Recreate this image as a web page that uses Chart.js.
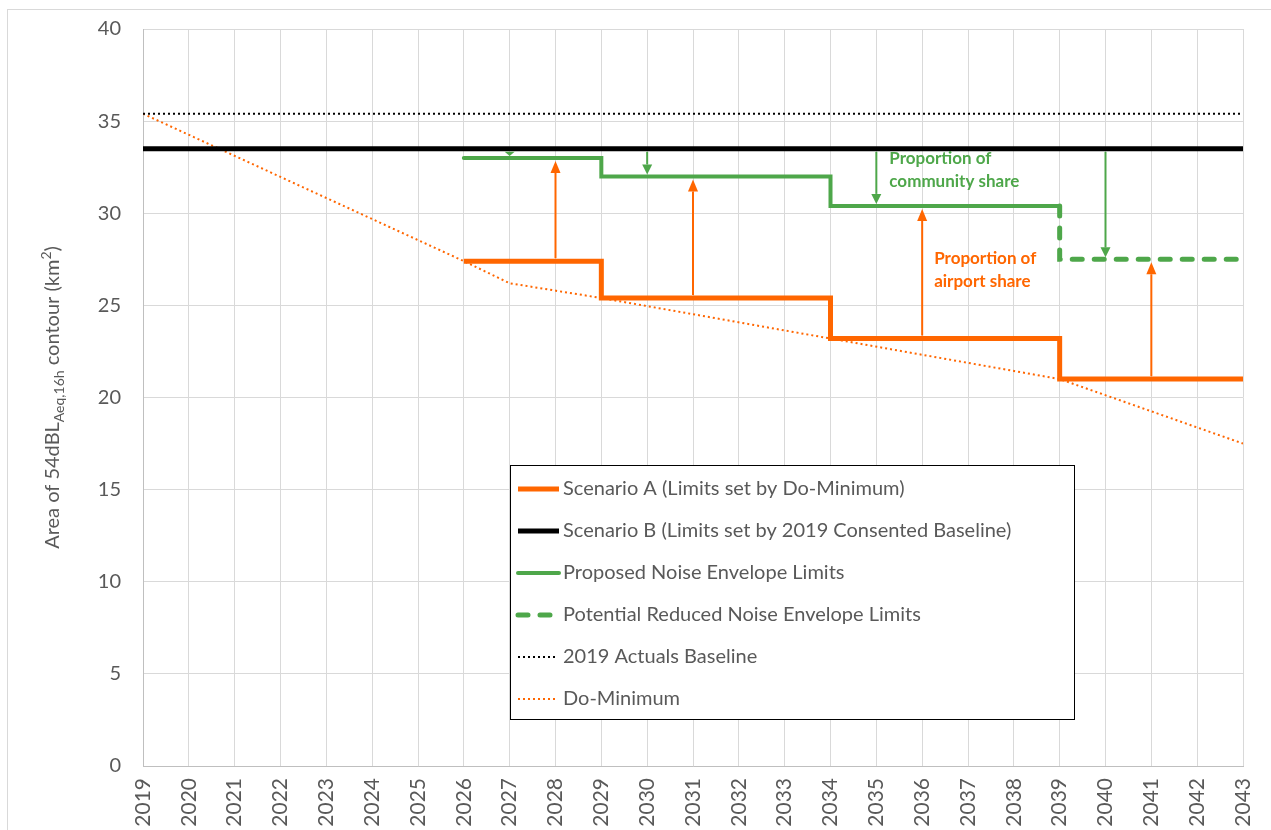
<!DOCTYPE html>
<html>
<head>
<meta charset="utf-8">
<script src="https://cdn.jsdelivr.net/npm/chart.js@4/dist/chart.umd.min.js"></script>
<style>
  html, body { margin: 0; padding: 0; background: #fff; overflow: hidden; }
  #wrap { position: absolute; left: 0; top: 0; width: 1271px; height: 830px; }
</style>
</head>
<body>
<div id="wrap"><canvas id="noiseChart" width="1271" height="830"></canvas></div>
<script>
// axis ticks
const tickYears = [2019, 2020, 2021, 2022, 2023, 2024, 2025, 2026, 2027, 2028, 2029, 2030, 2031,
  2032, 2033, 2034, 2035, 2036, 2037, 2038, 2039, 2040, 2041, 2042, 2043];
const yTicks = [0, 5, 10, 15, 20, 25, 30, 35, 40];

// series (year breakpoints + values, km2)
const scenAYears = [2026, 2029, 2034, 2039, 2043];
const scenAVals = [27.4, 25.4, 23.2, 21.0, 21.0];
const scenBYears = [2019, 2043];
const scenBVals = [33.5, 33.5];
const proposedYears = [2026, 2029, 2034, 2039];
const proposedVals = [33.0, 32.0, 30.4, 30.4];
const reducedYears = [2039, 2039, 2043];
const reducedVals = [30.4, 27.5, 27.5];
const actualsYears = [2019, 2043];
const actualsVals = [35.4, 35.4];
const doMinYears = [2019, 2026, 2027, 2029, 2034, 2039, 2043];
const doMinVals = [35.4, 27.4, 26.2, 25.4, 23.2, 21.0, 17.5];

// arrows: community share (down from Scenario B) and airport share (up from Scenario A)
const communityYears = [2027, 2030, 2035, 2040];
const communityFrom = [33.5, 33.5, 33.5, 33.5];
const communityTo = [33.0, 32.0, 30.4, 27.5];
const airportYears = [2028, 2031, 2036, 2041];
const airportFrom = [27.4, 25.4, 23.2, 21.0];
const airportTo = [33.0, 32.0, 30.4, 27.5];

const ORANGE = '#ff6600';
const GREEN = '#4ea74a';
const TEXT = '#595959';
const FONT = 'Lato, "Open Sans", sans-serif';

const pts = (xs, ys) => xs.map((x, i) => ({ x: x, y: ys[i] }));

function arrow(ctx, x, yFrom, yTo, color, head) {
  const dir = yTo > yFrom ? 1 : -1;
  const len = Math.abs(yTo - yFrom);
  const h = Math.min(head, len);
  ctx.strokeStyle = color;
  ctx.fillStyle = color;
  ctx.lineWidth = 2;
  if (len > h) {
    ctx.beginPath();
    ctx.moveTo(x, yFrom);
    ctx.lineTo(x, yTo - dir * h);
    ctx.stroke();
  }
  ctx.beginPath();
  ctx.moveTo(x, yTo);
  ctx.lineTo(x - 5, yTo - dir * h);
  ctx.lineTo(x + 5, yTo - dir * h);
  ctx.closePath();
  ctx.fill();
}

const overlay = {
  id: 'overlay',
  beforeDraw(chart) {
    const ctx = chart.ctx;
    ctx.save();
    ctx.strokeStyle = '#d9d9d9';
    ctx.lineWidth = 1;
    ctx.strokeRect(7.5, 9.5, 1300, 900);
    ctx.restore();
  },
  afterDatasetsDraw(chart) {
    const ctx = chart.ctx;
    const xs = chart.scales.x, ys = chart.scales.y;
    ctx.save();
    communityYears.forEach((yr, i) => {
      arrow(ctx, xs.getPixelForValue(yr), ys.getPixelForValue(communityFrom[i]) + 3,
        ys.getPixelForValue(communityTo[i]) - 2, GREEN, 10);
    });
    airportYears.forEach((yr, i) => {
      arrow(ctx, xs.getPixelForValue(yr), ys.getPixelForValue(airportFrom[i]) - 3,
        ys.getPixelForValue(airportTo[i]) + 3, ORANGE, 12);
    });

    ctx.font = 'bold 17px ' + FONT;
    ctx.textBaseline = 'middle';
    ctx.textAlign = 'left';
    ctx.fillStyle = GREEN;
    let x = xs.getPixelForValue(2035) + 13, y = ys.getPixelForValue(33.0) + 1;
    ctx.fillText('Proportion of', x, y);
    ctx.fillText('community share', x, y + 23);
    ctx.fillStyle = ORANGE;
    x = xs.getPixelForValue(2036) + 12; y = ys.getPixelForValue(27.5) - 1;
    ctx.fillText('Proportion of', x, y);
    ctx.fillText('airport share', x, y + 23);
    ctx.restore();
  },
  afterDraw(chart) {
    const ctx = chart.ctx;
    const area = chart.chartArea;
    ctx.save();

    // legend box
    const bx = 510.5, by = 465.5, bw = 564, bh = 254;
    ctx.fillStyle = '#fff';
    ctx.fillRect(bx, by, bw, bh);
    ctx.strokeStyle = '#000';
    ctx.lineWidth = 1;
    ctx.strokeRect(bx, by, bw, bh);
    ctx.font = '20px ' + FONT;
    ctx.textBaseline = 'middle';
    chart.data.datasets.forEach((ds, i) => {
      const ry = 489 + i * 42;
      ctx.save();
      ctx.strokeStyle = ds.borderColor;
      ctx.lineWidth = ds.borderWidth;
      ctx.lineCap = ds.borderCapStyle || 'butt';
      ctx.setLineDash(ds.borderDash || []);
      ctx.beginPath();
      ctx.moveTo(518, ry);
      ctx.lineTo(ds.borderDash && ds.borderWidth < 3 ? 555 : 559, ry);
      ctx.stroke();
      ctx.restore();
      ctx.fillStyle = TEXT;
      ctx.fillText(ds.label, 563, ry);
    });

    // y axis title with subscript / superscript
    const parts = [
      ['Area of 54dBL', 20, 0],
      ['Aeq,16h', 14, 5],
      [' contour (km', 20, 0],
      ['2', 14, -8],
      [')', 20, 0]
    ];
    ctx.translate(52, (area.top + area.bottom) / 2);
    ctx.rotate(-Math.PI / 2);
    ctx.fillStyle = TEXT;
    ctx.textBaseline = 'alphabetic';
    let total = 0;
    parts.forEach(p => { ctx.font = p[1] + 'px ' + FONT; total += ctx.measureText(p[0]).width; });
    let tx = -total / 2;
    parts.forEach(p => {
      ctx.font = p[1] + 'px ' + FONT;
      ctx.fillText(p[0], tx, 7 + p[2]);
      tx += ctx.measureText(p[0]).width;
    });
    ctx.restore();
  }
};

new Chart(document.getElementById('noiseChart'), {
  type: 'line',
  data: {
    datasets: [
      { label: 'Scenario A (Limits set by Do-Minimum)', data: pts(scenAYears, scenAVals),
        borderColor: ORANGE, borderWidth: 5, stepped: true, pointRadius: 0 },
      { label: 'Scenario B (Limits set by 2019 Consented Baseline)', data: pts(scenBYears, scenBVals),
        borderColor: '#000', borderWidth: 5, pointRadius: 0 },
      { label: 'Proposed Noise Envelope Limits', data: pts(proposedYears, proposedVals),
        borderColor: GREEN, borderWidth: 4, stepped: true, pointRadius: 0, borderCapStyle: 'round' },
      { label: 'Potential Reduced Noise Envelope Limits', data: pts(reducedYears, reducedVals),
        borderColor: GREEN, borderWidth: 5, borderDash: [10, 12], borderCapStyle: 'round', pointRadius: 0 },
      { label: '2019 Actuals Baseline', data: pts(actualsYears, actualsVals),
        borderColor: '#000', borderWidth: 2, borderDash: [2, 3], pointRadius: 0 },
      { label: 'Do-Minimum', data: pts(doMinYears, doMinVals),
        borderColor: ORANGE, borderWidth: 2, borderDash: [2, 3], pointRadius: 0 }
    ]
  },
  options: {
    responsive: false,
    animation: false,
    layout: { padding: { top: 29, right: 28, left: 0, bottom: 0 } },
    plugins: { legend: { display: false }, tooltip: { enabled: false } },
    scales: {
      x: {
        type: 'linear', min: 2019, max: 2043,
        afterBuildTicks: s => { s.ticks = tickYears.map(v => ({ value: v })); },
        afterFit: s => { s.height = 64; s.paddingLeft = 0; s.paddingRight = 0; },
        grid: { color: '#d9d9d9', drawTicks: false },
        border: { color: '#bfbfbf' },
        ticks: {
          autoSkip: false, minRotation: 90, maxRotation: 90, padding: 12,
          color: TEXT, font: { family: FONT, size: 21 },
          callback: v => String(v)
        }
      },
      y: {
        min: 0, max: 40,
        afterBuildTicks: s => { s.ticks = yTicks.map(v => ({ value: v })); },
        afterFit: s => { s.width = 143; s.paddingTop = 0; s.paddingBottom = 0; },
        grid: { color: '#d9d9d9', drawTicks: false },
        border: { color: '#bfbfbf' },
        ticks: { padding: 22, color: TEXT, font: { family: FONT, size: 20 } }
      }
    }
  },
  plugins: [overlay]
});
</script>
</body>
</html>
